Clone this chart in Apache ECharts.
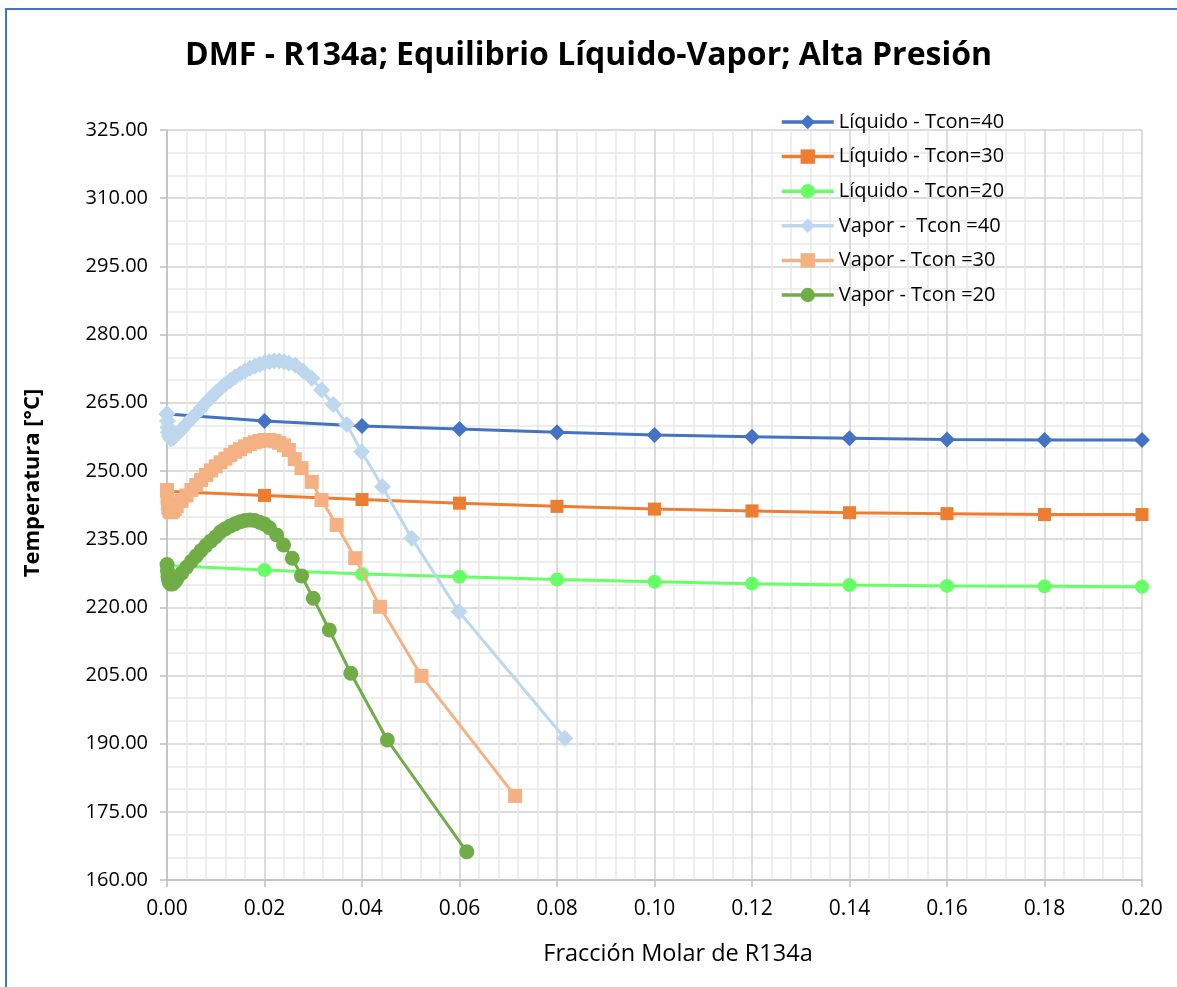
<!DOCTYPE html>
<html><head><meta charset="utf-8">
<script src="https://cdn.jsdelivr.net/npm/echarts@6/dist/echarts.min.js"></script>
<style>
html,body{margin:0;padding:0;background:#fff;}
body{width:1177px;height:987px;overflow:hidden;position:relative;}
#frame{position:absolute;left:5px;top:8px;width:1300px;height:1100px;border:2px solid #4472C4;box-sizing:border-box;}
#chart{position:absolute;left:0;top:0;width:1177px;height:987px;}
</style></head>
<body><div id="frame"></div><div id="chart"></div>
<script>
// ---- data ----
const seriesNames = ['Líquido - Tcon=40','Líquido - Tcon=30','Líquido - Tcon=20','Vapor -  Tcon =40','Vapor - Tcon =30','Vapor - Tcon =20'];
const liqX  = [0,0.02,0.04,0.06,0.08,0.10,0.12,0.14,0.16,0.18,0.20];
const liq40 = [262.5,261.0,259.9,259.2,258.5,257.9,257.5,257.2,256.9,256.8,256.8];
const liq30 = [245.5,244.6,243.7,242.9,242.2,241.6,241.2,240.8,240.6,240.4,240.4];
const liq20 = [229.2,228.2,227.3,226.7,226.1,225.6,225.2,224.9,224.7,224.6,224.5];

const vap40X = [0,0.0001,0.0002,0.0003,0.0005,0.0008,0.0012,0.0016,0.002,0.003,0.004,0.005,0.006,0.007,0.008,0.009,0.010,0.011,0.012,0.013,0.014,0.015,0.016,0.017,0.018,0.019,0.020,0.021,0.022,0.023,0.024,0.025,0.0263,0.0279,0.0297,0.0317,0.0341,0.0369,0.0399,0.0442,0.0502,0.0599,0.0816];
const vap40T = [262.6,261.0,259.6,258.5,257.6,257.1,257.2,257.6,258.1,259.1,260.3,261.5,262.6,263.8,265.0,266.1,267.2,268.2,269.1,269.9,270.7,271.4,272.0,272.6,273.0,273.4,273.8,274.0,274.2,274.2,274.0,273.7,273.3,272.0,270.4,267.8,264.6,260.2,254.2,246.5,235.2,219.0,191.2];

const vap30X = [0,0.0001,0.0002,0.0003,0.0005,0.0008,0.0012,0.0016,0.002,0.003,0.004,0.005,0.006,0.007,0.008,0.009,0.010,0.011,0.012,0.013,0.014,0.015,0.016,0.017,0.018,0.019,0.020,0.021,0.022,0.023,0.024,0.025,0.0262,0.0276,0.0297,0.0317,0.0348,0.0386,0.0437,0.0522,0.0714];
const vap30T = [245.8,244.2,242.8,241.9,241.2,240.9,241.1,241.6,242.2,243.4,244.6,245.8,246.9,248.0,249.1,250.1,251.0,251.9,252.7,253.5,254.2,254.8,255.4,255.9,256.3,256.6,256.8,256.8,256.6,256.2,255.6,254.6,252.6,250.6,247.6,243.6,238.1,230.8,220.1,204.9,178.5];

const vap20X = [0,0.0001,0.0002,0.0003,0.0005,0.0008,0.0012,0.0016,0.002,0.003,0.004,0.005,0.006,0.007,0.008,0.009,0.010,0.011,0.012,0.013,0.014,0.015,0.016,0.017,0.018,0.019,0.020,0.021,0.0225,0.0239,0.0257,0.0276,0.0300,0.0333,0.0377,0.0452,0.0615];
const vap20T = [229.4,228.0,226.8,226.0,225.4,225.1,225.2,225.6,226.2,227.5,228.8,230.1,231.3,232.5,233.6,234.6,235.5,236.6,237.3,237.9,238.4,238.8,239.1,239.2,239.1,238.7,238.3,237.5,235.9,233.7,230.8,226.9,222.0,215.0,205.5,190.8,166.2];

const xTicks = {min:0, max:0.20, step:0.02};
const yTicks = {min:160, max:325, step:15};

// ---- chart ----
const BASE = yTicks.min; // y plotted relative to axis minimum so ticks start at 160.00
function pairs(xs, ts){ return xs.map((x,i)=>[x, ts[i]-BASE]); }

const FONT = 'Open Sans';
const styles = [
  {color:'#4472C4', symbol:'diamond', size:16},
  {color:'#ED7D31', symbol:'rect', size:13},
  {color:'#66FF66', symbol:'circle', size:14},
  {color:'#BDD7EE', symbol:'diamond', size:17},
  {color:'#F4B183', symbol:'rect', size:14},
  {color:'#70AD47', symbol:'circle', size:15}
];
const dataSets = [pairs(liqX,liq40), pairs(liqX,liq30), pairs(liqX,liq20), pairs(vap40X,vap40T), pairs(vap30X,vap30T), pairs(vap20X,vap20T)];

const chart = echarts.init(document.getElementById('chart'), null, {renderer:'canvas'});
chart.setOption({
  animation:false,
  backgroundColor:'transparent',
  title:{
    text:'DMF - R134a; Equilibrio Líquido-Vapor; Alta Presión',
    left:'center', top:35,
    textStyle:{fontFamily:FONT, fontWeight:'bold', fontSize:32, color:'#000'}
  },
  legend:{
    orient:'vertical', left:780, top:112, padding:0,
    itemWidth:52, itemHeight:18, itemGap:14.6,
    data:seriesNames,
    lineStyle:{width:3.5},
    textStyle:{fontFamily:FONT, fontSize:20, color:'#000'}
  },
  grid:{left:167, right:35, top:130, bottom:107, containLabel:false},
  xAxis:{
    type:'value', min:xTicks.min, max:xTicks.max, interval:xTicks.step,
    name:'Fracción Molar de R134a', nameLocation:'middle', nameGap:62,
    nameTextStyle:{fontFamily:FONT, fontSize:23.5, color:'#000', padding:[0,0,0,47]},
    axisLine:{show:true, onZero:false, lineStyle:{color:'#bfbfbf', width:1.5}},
    axisTick:{show:true, length:7, lineStyle:{color:'#bfbfbf', width:1.5}},
    axisLabel:{fontFamily:FONT, fontSize:21, color:'#000', margin:19, formatter:v=>v.toFixed(2)},
    splitLine:{show:true, lineStyle:{color:'#d0d0d0', width:1.5}},
    minorTick:{show:false, splitNumber:5},
    minorSplitLine:{show:true, lineStyle:{color:'#e9e9e9', width:1.5}}
  },
  yAxis:{
    type:'value', min:0, max:yTicks.max-BASE, interval:yTicks.step,
    name:'Temperatura [°C]', nameLocation:'middle', nameGap:123,
    nameTextStyle:{fontFamily:FONT, fontSize:22, fontWeight:'bold', color:'#000', padding:[0,0,0,44]},
    axisLine:{show:true, lineStyle:{color:'#bfbfbf', width:1.5}},
    axisTick:{show:true, length:7, lineStyle:{color:'#bfbfbf', width:1.5}},
    axisLabel:{fontFamily:FONT, fontSize:20, color:'#000', margin:19, formatter:v=>(v+BASE).toFixed(2)},
    splitLine:{show:true, lineStyle:{color:'#d0d0d0', width:1.5}},
    minorTick:{show:false, splitNumber:3},
    minorSplitLine:{show:true, lineStyle:{color:'#e9e9e9', width:1.5}}
  },
  series: seriesNames.map((name,i)=>({
    name, type:'line', data:dataSets[i],
    symbol:styles[i].symbol, symbolSize:styles[i].size, showSymbol:true,
    lineStyle:{color:styles[i].color, width:3},
    itemStyle:{color:styles[i].color, borderWidth:0},
    z: 2 + i
  }))
});
</script>
</body></html>
